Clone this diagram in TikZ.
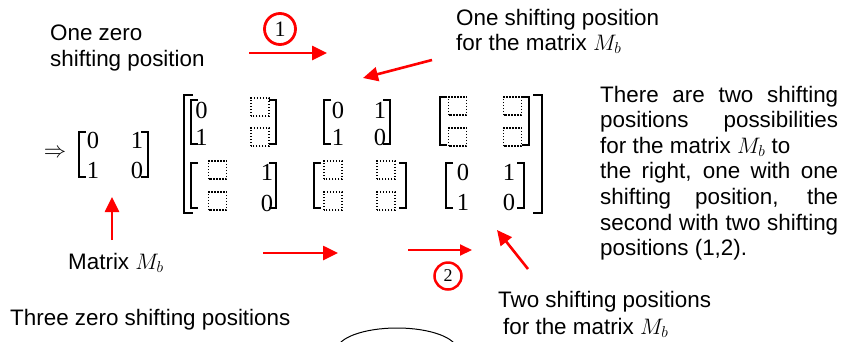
\documentclass[tikz,border=0pt]{standalone}
\usepackage{fix-cm}
\usepackage{fontspec}
\newfontfamily\arial{Liberation Sans}
\newfontfamily\serd{Liberation Serif}
\usetikzlibrary{arrows.meta}
\definecolor{rd}{RGB}{255,0,0}
\newcommand\brkts[4]{%
  \draw[brk] ({#1+7},#3) -- (#1,#3) -- (#1,#4) -- ({#1+7},#4);
  \draw[brk] ({#2-7},#3) -- (#2,#3) -- (#2,#4) -- ({#2-7},#4);}
\newcommand\dsqat[2]{%
  \draw[dotbox] ({#1-9},{#2-0.8}) rectangle ({#1+9},{#2-19});}
\begin{document}
\begin{tikzpicture}[x=1pt,y=-1pt,
  txt/.style={anchor=base west,inner sep=0pt,font=\arial\fontsize{22.4}{25.6}\selectfont},
  ent/.style={anchor=base,inner sep=0pt,font=\serd\fontsize{24.5}{28}\selectfont},
  brk/.style={line width=1.8pt,line join=miter},
  dotbox/.style={line width=1.5pt,dash pattern=on 1.5pt off 1.5pt},
  redarr/.style={draw=rd,line width=2.6pt,-{Triangle[length=15pt,width=14pt]}},
  redthin/.style={draw=rd,line width=2pt,-{Triangle[length=12pt,width=11pt]}},
  numcirc/.style={circle,draw=rd,inner sep=0pt}]
\useasboundingbox (0,0) rectangle (841,341);

% top-left label and arrow 1
\node[txt] (t1) at (50,40) {One zero};
\node[txt] (t2) at (50,66) {shifting position};
\node[numcirc,line width=2.8pt,minimum size=31pt,font=\serd\fontsize{22}{24}\selectfont] (c1) at (280,29) {1};
\coordinate (a1s) at (249,53);
\coordinate (a1e) at (327,53);
\draw[redarr] (a1s) -- (a1e);

% top-right label and arrow
\node[txt] (t3) at (456,25) {One shifting position};
\node[txt] (t4) at (456,50) {for the matrix $M_b$};
\coordinate (a2s) at (432,60);
\coordinate (a2e) at (363,78);
\draw[redarr] (a2s) -- (a2e);

% left matrix
\node[inner sep=0pt,font=\fontsize{22.4}{26}\selectfont] (imp) at (55,153) {$\Rightarrow$};
\brkts{79}{148}{132}{177}
\node[ent] (l11) at (93,148) {0};
\node[ent] (l12) at (137,148) {1};
\node[ent] (l21) at (93,178) {1};
\node[ent] (l22) at (137,178) {0};

% outer bracket
\draw[brk] (193,95) -- (184,95) -- (184,213) -- (193,213);
\draw[brk] (533,95) -- (542,95) -- (542,213) -- (533,213);

% M11
\brkts{191}{276}{100}{144}
\node[ent] (m11a) at (201.5,118) {0};
\dsqat{260}{117}
\node[ent] (m11c) at (201.5,145) {1};
\dsqat{260}{147}
% M12
\brkts{324}{390}{100}{144}
\node[ent] (m12a) at (338,118) {0};
\node[ent] (m12b) at (380,118) {1};
\node[ent] (m12c) at (338,145) {1};
\node[ent] (m12d) at (380,145) {0};
% M13
\brkts{440}{529}{97}{145}
\dsqat{457.5}{116}
\dsqat{512.5}{116}
\dsqat{457.5}{147}
\dsqat{512.5}{147}
% M21
\brkts{191}{276}{163}{208}
\dsqat{217.5}{180}
\node[ent] (m21b) at (267,180) {1};
\dsqat{217.5}{211}
\node[ent] (m21d) at (267,211) {0};
% M22
\brkts{314}{406}{163}{208}
\dsqat{333}{180}
\dsqat{386}{180}
\dsqat{333}{211}
\dsqat{386}{211}
% M23
\brkts{446}{524}{163}{208}
\node[ent] (m23a) at (463,180) {0};
\node[ent] (m23b) at (509,180) {1};
\node[ent] (m23c) at (463,210) {1};
\node[ent] (m23d) at (509,210) {0};

% Matrix Mb label and arrow
\node[txt] (t5) at (68,269) {Matrix $M_b$};
\coordinate (a3s) at (112,240);
\coordinate (a3e) at (112,197);
\draw[redarr] (a3s) -- (a3e);

% bottom arrows
\coordinate (a4s) at (263,253);
\coordinate (a4e) at (338,253);
\draw[redarr] (a4s) -- (a4e);
\coordinate (a5s) at (408,250);
\coordinate (a5e) at (472,250);
\draw[redthin] (a5s) -- (a5e);
\node[numcirc,line width=2.5pt,minimum size=27pt,font=\serd\fontsize{18}{22}\selectfont] (c2) at (448,276) {2};
\coordinate (a6s) at (528,269);
\coordinate (a6e) at (497,230);
\draw[redarr] (a6s) -- (a6e);

% bottom labels
\node[txt] (t6) at (10,325) {Three zero shifting positions};
\node[txt] (t7) at (498,307) {Two shifting positions};
\node[txt] (t8) at (503,334) {for the matrix $M_b$};

% right paragraph
\node[txt] (p1) at (600,102) {\makebox[238pt][s]{There are two shifting}};
\node[txt] (p2) at (600,127.6) {\makebox[238pt][s]{positions possibilities}};
\node[txt] (p3) at (600,153.2) {for the matrix $M_b$ to};
\node[txt] (p4) at (600,178.8) {\makebox[238pt][s]{the right, one with one}};
\node[txt] (p5) at (600,204.4) {\makebox[238pt][s]{shifting position, the}};
\node[txt] (p6) at (600,230) {\makebox[238pt][s]{second with two shifting}};
\node[txt] (p7) at (600,255.6) {positions (1,2).};

% arc at bottom
\begin{scope}
\clip (0,0) rectangle (841,341);
\draw[line width=1pt] (397,350) ellipse [x radius=60, y radius=22];
\end{scope}
\end{tikzpicture}
\end{document}
